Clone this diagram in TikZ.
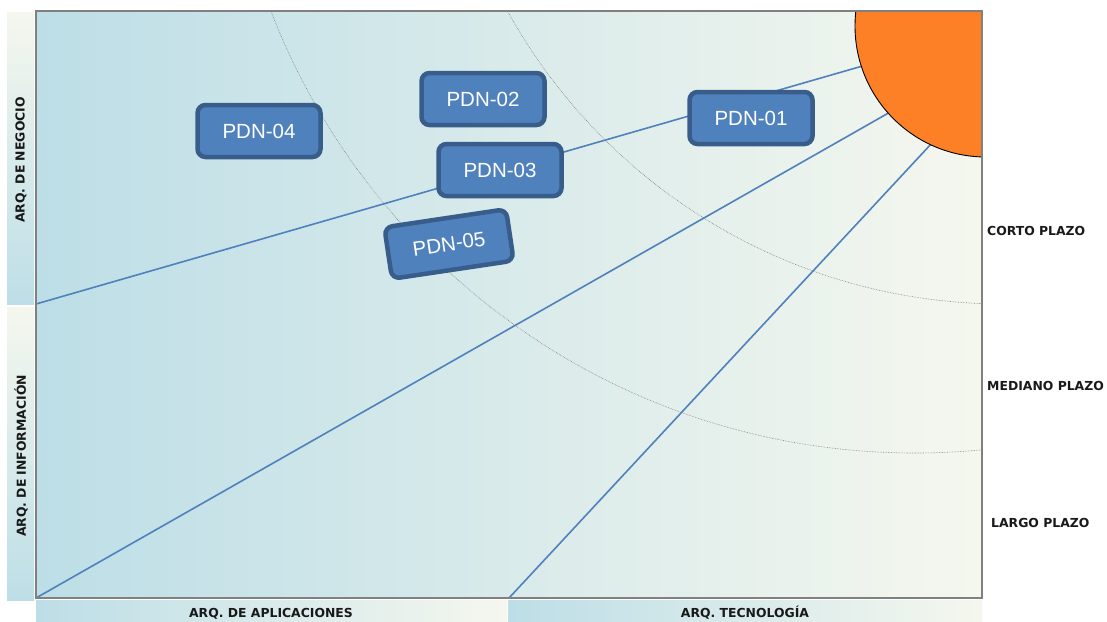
\documentclass[tikz,border=0pt]{standalone}
\usepackage{fontspec}
\setmainfont{Liberation Sans}
\newfontfamily\axisfont{DejaVu Sans}

\definecolor{skyband}{RGB}{189,222,231}
\definecolor{paleband}{RGB}{245,247,238}
\definecolor{pdnfill}{RGB}{79,129,189}
\definecolor{pdnedge}{RGB}{56,93,138}
\definecolor{rayblue}{RGB}{79,129,189}
\definecolor{sunfill}{RGB}{253,128,38}
\definecolor{framegray}{RGB}{128,128,128}
\definecolor{labelink}{RGB}{25,25,25}

\tikzset{
  pdnbox/.style={draw=pdnedge, fill=pdnfill, line width=4.5pt, rounded corners=8pt,
    minimum width=123pt, minimum height=52pt, inner sep=0pt, text=white,
    font=\fontsize{20.5}{24}\selectfont},
  axislabel/.style={text=labelink, inner sep=0pt, font=\axisfont\bfseries\fontsize{12.4}{14}\selectfont},
  horizon/.style={draw=gray, line width=0.6pt, densely dotted},
  ray/.style={draw=rayblue, line width=1.6pt},
}

\begin{document}
\begin{tikzpicture}[x=1pt, y=-1pt]
  \useasboundingbox (0,0) rectangle (1107,621);
  \fill[white] (0,0) rectangle (1107,621);

  % side and bottom bands
  \shade[top color=paleband, bottom color=skyband] (7,12) rectangle (34,304);
  \shade[top color=paleband, bottom color=skyband] (7,307) rectangle (34,600);
  \shade[left color=skyband, right color=paleband] (36,600) rectangle (507,621);
  \shade[left color=skyband, right color=paleband] (508,600) rectangle (982,621);

  % main field
  \shade[left color=skyband, right color=paleband] (36,11) rectangle (982,598);

  % corner anchors of the rays
  \coordinate (rayAstart) at (36,304);
  \coordinate (rayAend)   at (866,65);
  \coordinate (rayBstart) at (36,598);
  \coordinate (rayBend)   at (892,111);
  \coordinate (rayCstart) at (509,598);
  \coordinate (rayCend)   at (932,143);
  \coordinate (suncentre) at (986,26);

  \begin{scope}
    \clip (36,11) rectangle (982,598);
    % time horizons
    \draw[horizon] (1004,-263) circle[radius=567];
    \draw[horizon] (915,-237) circle[radius=690];
    % rays
    \draw[ray] (rayAstart) -- (rayAend);
    \draw[ray] (rayBstart) -- (rayBend);
    \draw[ray] (rayCstart) -- (rayCend);
    % sun
    \fill[sunfill] (suncentre) circle[radius=131];
    \draw[black, line width=0.9pt] (suncentre) circle[radius=131];
  \end{scope}

  % frame
  \draw[framegray, line width=1.5pt] (36,11) rectangle (982,598);

  % initiatives
  \node[pdnbox] (pdn04) at (259,131) {PDN-04};
  \node[pdnbox] (pdn02) at (483,99)  {PDN-02};
  \node[pdnbox] (pdn03) at (500,170) {PDN-03};
  \node[pdnbox, rotate=8.5] (pdn05) at (449,244) {PDN-05};
  \node[pdnbox] (pdn01) at (751,118) {PDN-01};

  % axis labels
  \node[axislabel, rotate=90] (negocio) at (21,160) {ARQ. DE NEGOCIO};
  \node[axislabel, rotate=90] (informacion) at (21,456) {ARQ. DE INFORMACIÓN};
  \node[axislabel, anchor=base] (aplicaciones) at (271,617) {ARQ. DE APLICACIONES};
  \node[axislabel, anchor=base] (tecnologia) at (745,617) {ARQ. TECNOLOGÍA};
  \node[axislabel, anchor=west] (corto) at (987,231) {CORTO PLAZO};
  \node[axislabel, anchor=west] (mediano) at (987,386) {MEDIANO PLAZO};
  \node[axislabel, anchor=west] (largo) at (991,523) {LARGO PLAZO};
\end{tikzpicture}
\end{document}
